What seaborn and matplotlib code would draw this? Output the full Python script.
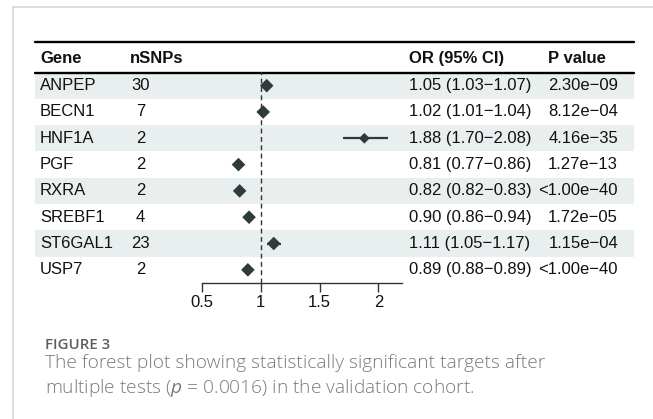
import numpy as np
import pandas as pd
import matplotlib
matplotlib.use("Agg")
import matplotlib.pyplot as plt
from matplotlib.lines import Line2D
import seaborn as sns

# data
genes = ["ANPEP", "BECN1", "HNF1A", "PGF", "RXRA", "SREBF1", "ST6GAL1", "USP7"]
n_snps = [30, 7, 2, 2, 2, 4, 23, 2]
odds_ratio = [1.05, 1.02, 1.88, 0.81, 0.82, 0.90, 1.11, 0.89]
ci_low = [1.03, 1.01, 1.70, 0.77, 0.82, 0.86, 1.05, 0.88]
ci_high = [1.07, 1.04, 2.08, 0.86, 0.83, 0.94, 1.17, 0.89]
p_values = ["2.30e\u221209", "8.12e\u221204", "4.16e\u221235", "1.27e\u221213",
            "<1.00e\u221240", "1.72e\u221205", "1.15e\u221204", "<1.00e\u221240"]
x_ticks = [0.5, 1, 1.5, 2]

df = pd.DataFrame({"gene": genes, "nsnps": n_snps, "or": odds_ratio,
                   "lo": ci_low, "hi": ci_high, "p": p_values})
df["row"] = np.arange(len(df))
df["label"] = [f"{o:.2f} ({l:.2f}\u2212{h:.2f})" for o, l, h in zip(df["or"], df["lo"], df["hi"])]

sns.set_theme(style="white")
plt.rcParams["font.family"] = ["Liberation Sans", "DejaVu Sans"]
plt.rcParams["mathtext.fontset"] = "custom"
plt.rcParams["mathtext.it"] = "Open Sans:italic"
plt.rcParams["mathtext.rm"] = "Open Sans"

W, H = 653, 419
fig = plt.figure(figsize=(W / 100, H / 100), dpi=100)
fig.patch.set_facecolor("white")


def box(x0, y0, x1, y1):
    return [x0 / W, 1 - y1 / H, (x1 - x0) / W, (y1 - y0) / H]


ink = "#2f3a3a"
fs = 12
row_h = (283 - 72.5) / len(df)
top = -0.5 - (72.5 - 42) / row_h
head_y = -0.5 - (72.5 - 58.5) / row_h

# table background / text
ax_t = fig.add_axes(box(35, 42, 634, 283))
ax_t.set_xlim(35, 634)
ax_t.set_ylim(len(df) - 0.5, top)
ax_t.axis("off")
for r in df["row"][::2]:
    ax_t.axhspan(r - 0.5, r + 0.5, color="#e9eeee", lw=0)
ax_t.axhline(top, color="black", lw=1.7, clip_on=False)
ax_t.axhline(-0.5, color="black", lw=1.7, clip_on=False)

hdr = dict(fontsize=fs, fontweight="bold", va="center", color="#111111")
ax_t.text(40, head_y, "Gene", ha="left", **hdr)
ax_t.text(130, head_y, "nSNPs", ha="left", **hdr)
ax_t.text(409, head_y, "OR (95% CI)", ha="left", **hdr)
ax_t.text(548, head_y, "P value", ha="left", **hdr)

cell = dict(fontsize=fs, va="center", color="#111111")
for _, r in df.iterrows():
    ax_t.text(40, r["row"], r["gene"], ha="left", **cell)
    ax_t.text(140.5, r["row"], str(r["nsnps"]), ha="center", **cell)
    ax_t.text(409, r["row"], r["label"], ha="left", **cell)
    ax_t.text(618, r["row"], r["p"], ha="right", **cell)

# forest panel
ax_f = fig.add_axes(box(202, 72.5, 402, 283))
ax_f.patch.set_alpha(0)
ax_f.set_xlim(0.5, 2.2)
ax_f.set_ylim(len(df) - 0.5, -0.5)
ax_f.axvline(1, color="#333333", lw=1.0, ls=(0, (3.5, 2.5)))
ax_f.hlines(df["row"], df["lo"], df["hi"], color=ink, lw=1.6)
marker_area = {g: (30 if g == "HNF1A" else 48) for g in genes}
sns.scatterplot(data=df, x="or", y="row", size="gene", sizes=marker_area,
                marker="D", color=ink, edgecolor=ink, linewidth=0,
                legend=False, ax=ax_f, zorder=3)
for s in ["top", "right", "left"]:
    ax_f.spines[s].set_visible(False)
ax_f.spines["bottom"].set_color("#333333")
ax_f.spines["bottom"].set_linewidth(1.0)
ax_f.set_xticks(x_ticks)
ax_f.set_xticklabels([f"{t:g}" for t in x_ticks])
ax_f.set_yticks([])
ax_f.tick_params(axis="x", bottom=True, length=6.5, width=1.0, color="#333333",
                 pad=2, labelsize=fs, labelcolor="#111111")
ax_f.set_xlabel("")
ax_f.set_ylabel("")

# panel frame
fig.add_artist(Line2D([13 / W, 1], [1 - 7 / H, 1 - 7 / H], color="#d6d6d6", lw=1.2,
                      transform=fig.transFigure))
fig.add_artist(Line2D([13 / W, 13 / W], [1 - 7 / H, 0], color="#d6d6d6", lw=1.2,
                      transform=fig.transFigure))

# caption
fig.text(45 / W, 1 - 345 / H, "FIGURE 3", family=["Open Sans", "DejaVu Sans"],
         fontweight="semibold", fontsize=10.8, color="#5e5e5e", va="center")
cap = dict(family=["Open Sans", "DejaVu Sans"], fontsize=13.8, color="#7a7a7a",
           va="center", fontweight="light")
fig.text(45 / W, 1 - 363 / H,
         "The forest plot showing statistically significant targets after", **cap)
fig.text(45 / W, 1 - 388 / H,
         "multiple tests ($p$ = 0.0016) in the validation cohort.", **cap)

fig.savefig("out.png", dpi=100)
